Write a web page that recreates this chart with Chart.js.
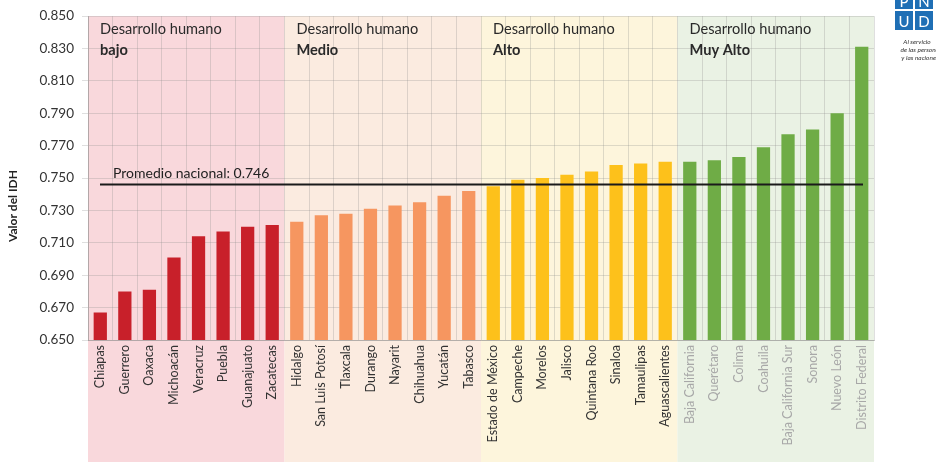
<!DOCTYPE html>
<html>
<head>
<meta charset="utf-8">
<script src="https://cdn.jsdelivr.net/npm/chart.js@4"></script>
<style>
html,body{margin:0;padding:0;background:#fff;}
#wrap{width:936px;height:462px;position:relative;}
</style>
</head>
<body>
<div id="wrap"><canvas id="idh" width="936" height="462"></canvas></div>
<script>
/* DATA */
const estados=["Chiapas","Guerrero","Oaxaca","Michoacán","Veracruz","Puebla","Guanajuato","Zacatecas",
"Hidalgo","San Luis Potosí","Tlaxcala","Durango","Nayarit","Chihuahua","Yucatán","Tabasco",
"Estado de México","Campeche","Morelos","Jalisco","Quintana Roo","Sinaloa","Tamaulipas","Aguascalientes",
"Baja California","Querétaro","Colima","Coahuila","Baja California Sur","Sonora","Nuevo León","Distrito Federal"];
const idh=[0.667,0.680,0.681,0.701,0.714,0.717,0.720,0.721,
0.723,0.727,0.728,0.731,0.733,0.735,0.739,0.742,
0.745,0.749,0.750,0.752,0.754,0.758,0.759,0.760,
0.760,0.761,0.763,0.769,0.777,0.780,0.790,0.831];
const grupos=["bajo","Medio","Alto","Muy Alto"];
const grupoTam=[8,8,8,8];
const promedio=0.746;
const yMin=0.650, yMax=0.850, yStep=0.020;

/* STYLE */
const barColor=["#c8202a","#f69660","#fdc11b","#6fac46"];
const bgColor=["#f9d8dc","#fbebe0","#fdf5dc","#eaf2e4"];
const tickColor=["#333","#333","#333","#a8a8a8"];
const FONT="Lato, 'Open Sans', sans-serif";

function grupoDe(i){
let acc=0;
for(let g=0;g<grupoTam.length;g++){acc+=grupoTam[g];if(i<acc)return g;}
return grupoTam.length-1;
}

/* PLUGIN: fondos, promedio, titulos */
const decor={
id:"decor",
beforeDraw(chart){
const c=chart.ctx, x=chart.scales.x, a=chart.chartArea;
const half=(x.getPixelForValue(1)-x.getPixelForValue(0))/2;
let start=0;
c.save();
grupoTam.forEach((n,g)=>{
const x0=x.getPixelForValue(start)-half;
const x1=x.getPixelForValue(start+n-1)+half;
c.fillStyle=bgColor[g];
c.fillRect(x0,a.top,x1-x0,chart.height-a.top);
start+=n;
});
c.restore();
},
afterDatasetsDraw(chart){
const c=chart.ctx, x=chart.scales.x, y=chart.scales.y, a=chart.chartArea;
const half=(x.getPixelForValue(1)-x.getPixelForValue(0))/2;
c.save();
/* linea promedio */
const py=y.getPixelForValue(promedio);
c.strokeStyle="#1a1a1a";
c.lineWidth=2;
c.beginPath();
c.moveTo(a.left+12,py);
c.lineTo(a.right-11,py);
c.stroke();
c.fillStyle="#222";
c.font="14px "+FONT;
c.textBaseline="alphabetic";
c.fillText("Promedio nacional: "+promedio.toFixed(3),a.left+25,py-7);
/* titulos de grupo */
let start=0;
grupoTam.forEach((n,g)=>{
const x0=x.getPixelForValue(start)-half+12;
c.fillStyle="#2a2a2a";
c.font="14.6px "+FONT;
c.fillText("Desarrollo humano",x0,a.top+18);
c.font="bold 14.6px "+FONT;
c.fillText(grupos[g],x0,a.top+39);
start+=n;
});
/* titulo eje */
c.translate(17,206);
c.rotate(-Math.PI/2);
c.textAlign="center";
c.font="bold 12px "+FONT;
c.fillStyle="#222";
c.fillText("Valor del IDH",0,0);
c.restore();

/* logo */
c.save();
c.fillStyle="#1f6fb5";
c.fillRect(895,-8,18,17);
c.fillRect(915,-8,18,17);
c.fillRect(895,11,18,19);
c.fillRect(915,11,18,19);
c.fillStyle="#fff";
c.font="15px "+FONT;
c.textAlign="center";
c.fillText("P",904,7);
c.fillText("N",924,7);
c.fillText("U",904,27);
c.fillText("D",924,27);
c.fillStyle="#333";
c.font="italic 6.5px "+FONT;
c.fillText("Al servicio",917,44);
c.fillText("de las personas",921,52);
c.fillText("y las naciones",920,60);
c.restore();
}
};

/* CHART */
const ctx=document.getElementById("idh");
new Chart(ctx,{
type:"bar",
data:{
labels:estados,
datasets:[{
data:idh,
backgroundColor:idh.map((v,i)=>barColor[grupoDe(i)]),
barPercentage:0.54,
categoryPercentage:1
}]
},
options:{
responsive:false,
animation:false,
layout:{padding:{top:11,right:62,bottom:0,left:0}},
plugins:{legend:{display:false},tooltip:{enabled:false}},
scales:{
x:{
grid:{color:"rgba(140,140,140,0.28)",drawTicks:false,offset:true},
border:{color:"rgba(140,140,140,0.5)"},
ticks:{
autoSkip:false,
maxRotation:90,minRotation:90,
padding:5,
font:{size:12.5,family:FONT},
color:(t)=>tickColor[grupoDe(t.index)]
},
afterFit(s){s.height=122;}
},
y:{
min:yMin,max:yMax,
grid:{color:"rgba(140,140,140,0.28)",tickLength:6},
border:{color:"rgba(140,140,140,0.5)"},
ticks:{
stepSize:yStep,
padding:8,
font:{size:13.5,family:FONT},
color:"#333",
callback:(v)=>v.toFixed(3)
},
afterFit(s){s.width=88;}
}
}
},
plugins:[decor]
});
</script>
</body>
</html>
